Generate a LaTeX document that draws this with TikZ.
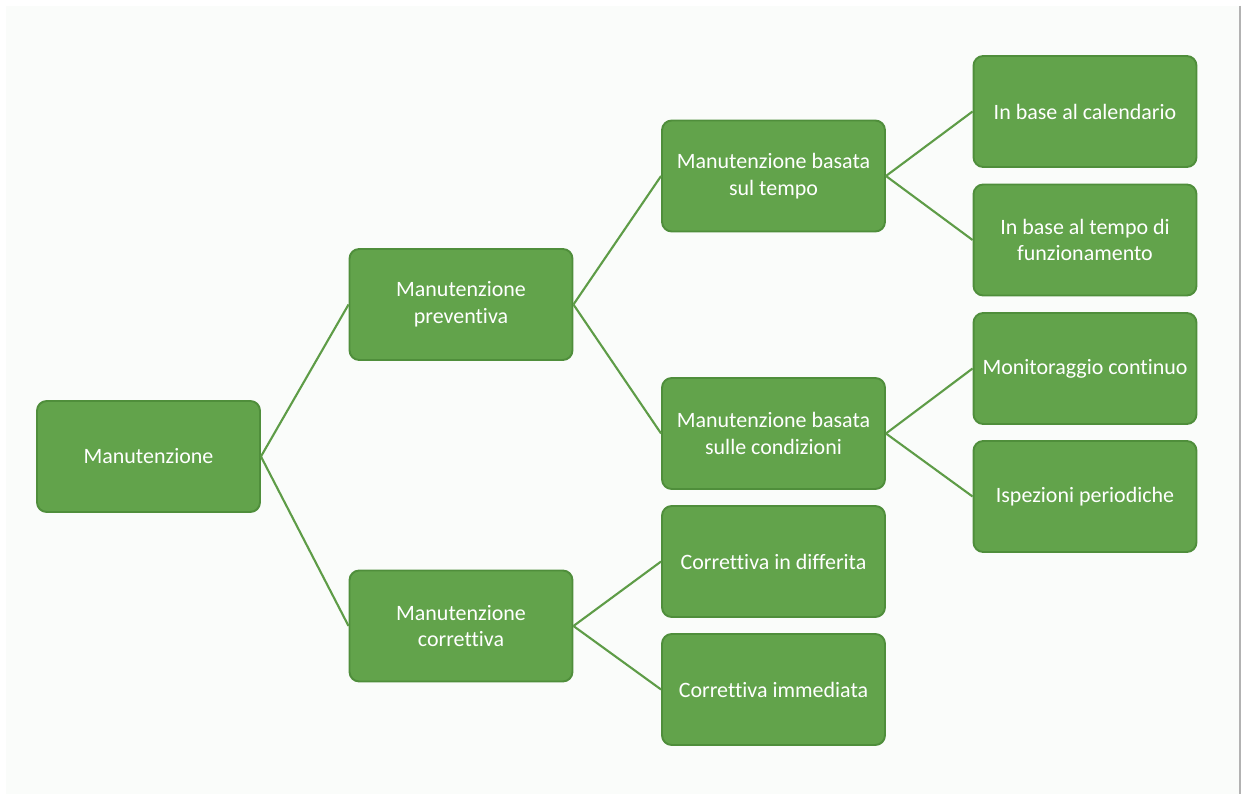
\documentclass[tikz,border=0pt]{standalone}
\usepackage{fontspec}
\setmainfont{Carlito}[Ligatures=NoCommon]
\usepackage{tikz}
\usetikzlibrary{positioning}

\definecolor{boxgreen}{HTML}{62A34B}
\definecolor{edgegreen}{HTML}{4F8E3B}
\definecolor{linegreen}{HTML}{5E9C47}
\definecolor{paper}{HTML}{FAFCFA}

\tikzset{
    box/.style={draw=edgegreen, line width=1.1pt, fill=boxgreen, rounded corners=5.5pt,
        minimum width=4.46cm, minimum height=2.22cm, align=center,
        text=white, font=\fontsize{12.5}{15.2}\selectfont, inner sep=2pt},
    link/.style={draw=linegreen, line width=1.2pt}
}

\begin{document}
\begin{tikzpicture}[x=0.02cm, y=-0.02cm]
        \useasboundingbox (0,0) rectangle (1243,800);
        \fill[white] (0,0) rectangle (1243,800);
        \fill[paper] (6,6) rectangle (1239,794);
        \draw[gray!60, line width=1pt] (1240,6)--(1240,794);

        % level 0 and 1
        \node[box] (man) at (148.5,456.5) {Manutenzione};
        \node[box] (prev) at (461,304.5) {Manutenzione\\preventiva};
        \node[box] (corr) at (461,626) {Manutenzione\\correttiva};

        % level 2
        \node[box] (tempo) at (773.5,176) {Manutenzione basata\\sul tempo};
        \node[box] (cond) at (773.5,433.5) {Manutenzione basata\\sulle condizioni};
        \node[box] (diff) at (773.5,561.5) {Correttiva in differita};
        \node[box] (imm) at (773.5,689.5) {Correttiva immediata};

        % level 3
        \node[box] (cal) at (1085,111.5) {In base al calendario};
        \node[box] (funz) at (1085,240) {In base al tempo di\\funzionamento};
        \node[box] (mon) at (1085,368.5) {Monitoraggio continuo};
        \node[box] (isp) at (1085,496.5) {Ispezioni periodiche};

        \foreach \a/\b in {man/prev, man/corr, prev/tempo, prev/cond,
                corr/diff, corr/imm, tempo/cal, tempo/funz, cond/mon, cond/isp}
            \draw[link] (\a.east)--(\b.west);
    \end{tikzpicture}
\end{document}
